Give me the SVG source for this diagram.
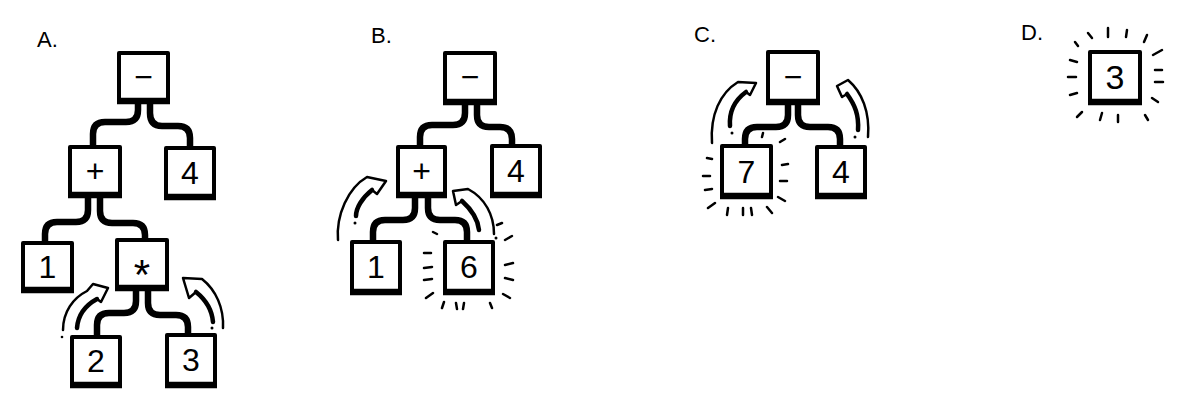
<svg xmlns="http://www.w3.org/2000/svg" width="1180" height="408" viewBox="0 0 1180 408">
<style>
.box rect{fill:#fff;stroke:#000;stroke-width:4;stroke-linejoin:round}
.box line{stroke:#000;stroke-width:6.5;stroke-linecap:butt}
.lbl{font-family:"Liberation Sans",Arial,sans-serif;font-size:32px;text-anchor:middle;fill:#000}
.title{font-family:"Liberation Sans",Arial,sans-serif;font-size:22px;fill:#000}
.edge{fill:none;stroke:#000;stroke-width:6.5;stroke-linecap:round;stroke-linejoin:round}
.arr{fill:none;stroke:#000;stroke-width:2.5;stroke-linejoin:round;stroke-linecap:round}
.arrin{fill:none;stroke:#000;stroke-width:4.5;stroke-linecap:round}
.ray{fill:none;stroke:#000;stroke-width:2.5;stroke-linecap:round}
</style>

<g id="titles">
<text class="title" x="37" y="47">A.</text>
<text class="title" x="371" y="43">B.</text>
<text class="title" x="694" y="42">C.</text>
<text class="title" x="1021" y="40">D.</text>
</g>

<g id="connectors">
<path class="edge" d="M138,102 V110 Q138,122 126,122 H105 Q93,122 93,134 V147"/>
<path class="edge" d="M150,102 V113 Q150,126 162,126 H178 Q190,126 190,138 V148"/>
<path class="edge" d="M88,195 V210 Q88,222 76,222 H57 Q45,222 45,234 V243"/>
<path class="edge" d="M100,195 V211 Q100,223 112,223 H133 Q145,223 145,235 V240"/>
<path class="edge" d="M136,288 V301 Q136,313 124,313 H109 Q97,313 97,325 V337"/>
<path class="edge" d="M148,288 V303 Q148,315 160,315 H176 Q188,315 188,327 V335"/>
<path class="edge" d="M465,102 V113 Q465,125 453,125 H432 Q420,125 420,137 V147"/>
<path class="edge" d="M477,102 V115 Q477,127 489,127 H500 Q512,127 512,139 V146"/>
<path class="edge" d="M415,195 V208 Q415,220 403,220 H385 Q373,220 373,232 V242"/>
<path class="edge" d="M428,195 V208 Q428,220 440,220 H455 Q467,220 467,232 V242"/>
<path class="edge" d="M788,102 V115 Q788,127 776,127 H757 Q745,127 745,139 V146"/>
<path class="edge" d="M798,102 V115 Q798,127 810,127 H828 Q840,127 840,139 V147"/>
</g>

<g id="motion">
<path class="arr" d="M63,330 C63,312 73,298 87,291 L93,284 L108,288 L101,302 L97,299"/>
<path class="arrin" d="M97,299 C86,305 78,315 77,328"/>
<circle cx="62" cy="337" r="1.3"/>
<path class="arr" d="M223,328 C224,308 216,290 202,279 L183,278 L189,298 L196,292"/>
<path class="arrin" d="M196,292 C206,300 212,310 213,322"/>
<circle cx="212" cy="328" r="1.5"/>
<path class="arr" d="M338,240 C336,215 348,188 367,177 L386,181 L377,194 L372,190"/>
<path class="arrin" d="M372,190 C362,198 356,208 356,216"/>
<circle cx="355" cy="223" r="1.5"/>
<path class="arr" d="M494,234 C494,215 485,198 468,189 L453,191 L456,205 L462,201"/>
<path class="arrin" d="M462,201 C472,210 478,220 479,230"/>
<circle cx="496" cy="238" r="1.5"/>
<path class="arr" d="M712,143 C710,115 720,93 738,82 L756,83 L750,95 L746,92"/>
<path class="arrin" d="M746,92 C735,100 729,112 730,126"/>
<circle cx="732" cy="133" r="1.5"/>
<path class="arr" d="M868,137 C870,112 862,92 848,80 L837,86 L842,97 L847,94"/>
<path class="arrin" d="M847,94 C855,105 859,115 858,130"/>
<circle cx="855" cy="137" r="1.5"/>
</g>

<g id="glow">
<path class="ray" d="M497,225 L502,223 M505,240 L512,236 M505,265 L513,263 M505,278 L513,280 M503,294 L510,298 M433,232 L437,234 M424,253 L431,253 M424,268 L432,267 M424,280 L432,279 M426,298 L433,293 M442,308 L444,302 M457,309 L456,303 M463,309 L464,303 M490,303 L492,308"/>
<path class="ray" d="M762,137 L763,133 M780,142 L785,139 M782,165 L788,164 M780,181 L787,181 M778,197 L785,201 M707,158 L712,159 M703,176 L710,176 M705,190 L712,189 M708,208 L715,203 M727,215 L728,208 M743,215 L743,208 M752,215 L751,208 M767,207 L772,213"/>
<path class="ray" d="M1075,42 L1078,46 M1088,33 L1092,38 M1108,28 L1108,37 M1127,30 L1126,37 M1147,35 L1144,42 M1070,60 L1077,62 M1068,77 L1076,77 M1070,95 L1077,93 M1153,55 L1162,50 M1155,70 L1162,70 M1155,82 L1163,82 M1152,98 L1158,102 M1077,117 L1082,112 M1100,120 L1102,113 M1118,122 L1118,115 M1145,115 L1148,120"/>
</g>

<g id="a-minus" class="box"><rect x="119" y="53" width="49" height="48"/><line x1="117" y1="101" x2="170" y2="101"/><text class="lbl" x="143.5" y="88">−</text></g>
<g id="a-plus" class="box"><rect x="70" y="147" width="50" height="48"/><line x1="68" y1="195" x2="122" y2="195"/><text class="lbl" x="95" y="182">+</text></g>
<g id="a-4" class="box"><rect x="166" y="148" width="48" height="49"/><line x1="164" y1="197" x2="216" y2="197"/><text class="lbl" x="190" y="184">4</text></g>
<g id="a-1" class="box"><rect x="23" y="243" width="49" height="47"/><line x1="21" y1="290" x2="74" y2="290"/><text class="lbl" x="47.5" y="278">1</text></g>
<g id="a-star" class="box"><rect x="117" y="240" width="50" height="48"/><line x1="115" y1="288" x2="169" y2="288"/><text class="lbl" x="142" y="289" style="font-size:42px">*</text></g>
<g id="a-2" class="box"><rect x="72" y="337" width="48" height="48"/><line x1="70" y1="385" x2="122" y2="385"/><text class="lbl" x="96" y="372">2</text></g>
<g id="a-3" class="box"><rect x="167" y="335" width="48" height="50"/><line x1="165" y1="385" x2="217" y2="385"/><text class="lbl" x="191" y="371">3</text></g>

<g id="b-minus" class="box"><rect x="445" y="53" width="50" height="49"/><line x1="443" y1="102" x2="497" y2="102"/><text class="lbl" x="470" y="88">−</text></g>
<g id="b-plus" class="box"><rect x="398" y="147" width="47" height="48"/><line x1="396" y1="195" x2="447" y2="195"/><text class="lbl" x="421.5" y="182">+</text></g>
<g id="b-4" class="box"><rect x="492" y="146" width="48" height="49"/><line x1="490" y1="195" x2="542" y2="195"/><text class="lbl" x="516" y="182">4</text></g>
<g id="b-1" class="box"><rect x="352" y="242" width="48" height="50"/><line x1="350" y1="292" x2="402" y2="292"/><text class="lbl" x="376" y="278">1</text></g>
<g id="b-6" class="box"><rect x="445" y="242" width="48" height="50"/><line x1="443" y1="292" x2="495" y2="292"/><text class="lbl" x="469" y="278">6</text></g>

<g id="c-minus" class="box"><rect x="768" y="52" width="50" height="50"/><line x1="766" y1="102" x2="820" y2="102"/><text class="lbl" x="793" y="88">−</text></g>
<g id="c-7" class="box"><rect x="722" y="146" width="49" height="50"/><line x1="720" y1="196" x2="773" y2="196"/><text class="lbl" x="746.5" y="183">7</text></g>
<g id="c-4" class="box"><rect x="817" y="147" width="48" height="49"/><line x1="815" y1="196" x2="867" y2="196"/><text class="lbl" x="841" y="183">4</text></g>

<g id="d-3" class="box"><rect x="1090" y="52" width="50" height="50"/><line x1="1088" y1="102" x2="1142" y2="102"/><text class="lbl" x="1115" y="89" style="font-size:34px">3</text></g>
</svg>
